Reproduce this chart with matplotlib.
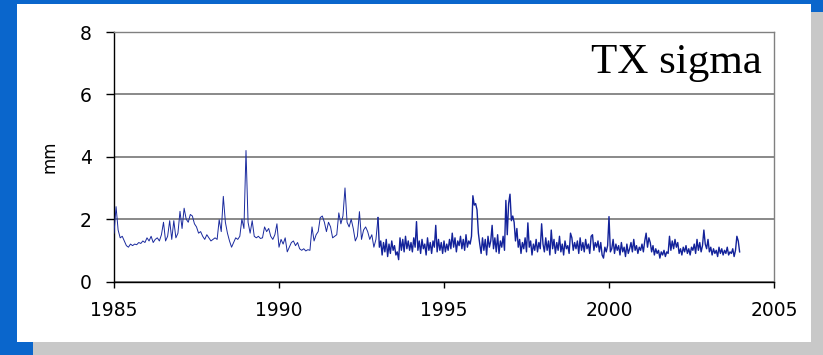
import numpy as np
import matplotlib
matplotlib.use("Agg")
import matplotlib.pyplot as plt
from matplotlib.patches import Rectangle

# TX sigma (mm), 1985-1993 about 16 samples per year
early_start = 1985.0
early_per_year = 16
early_values = [
    1.55, 2.40, 1.65, 1.40, 1.45, 1.30, 1.15, 1.10, 1.20, 1.15, 1.20, 1.18, 1.25, 1.22, 1.30, 1.25,  # 1985
    1.40, 1.30, 1.45, 1.25, 1.35, 1.40, 1.30, 1.50, 1.90, 1.30, 1.45, 1.95, 1.35, 1.95, 1.40, 1.55,  # 1986
    2.25, 1.70, 2.35, 2.00, 1.90, 2.15, 2.10, 1.85, 1.75, 1.55, 1.60, 1.45, 1.35, 1.50, 1.40, 1.30,  # 1987
    1.35, 1.40, 1.35, 1.98, 1.60, 2.73, 1.90, 1.55, 1.30, 1.10, 1.25, 1.40, 1.35, 1.45, 2.00, 1.70,  # 1988
    4.20, 1.90, 1.55, 1.95, 1.45, 1.40, 1.45, 1.38, 1.40, 1.75, 1.60, 1.70, 1.45, 1.35, 1.50, 1.85,  # 1989
    1.10, 1.35, 1.20, 1.40, 0.95, 1.10, 1.25, 1.30, 1.15, 1.25, 1.05, 1.00, 1.05, 0.98, 1.02, 1.00,  # 1990
    1.75, 1.30, 1.50, 1.60, 2.05, 2.10, 1.90, 1.60, 1.90, 1.75, 1.40, 1.45, 1.50, 2.20, 1.85, 2.10,  # 1991
    3.00, 1.90, 1.75, 2.00, 1.70, 1.30, 1.45, 2.24, 1.35, 1.65, 1.75, 1.60, 1.35, 1.50, 1.10, 1.35,  # 1992
]

# 1993-2004 about 24 samples per year
late_start = 1993.0
late_per_year = 24
late_values = [
    2.05, 1.10, 1.30, 0.85, 1.25, 0.95, 1.35, 0.80, 1.20, 0.90, 1.30, 1.00, 1.15, 0.85, 0.95, 0.70, 1.40, 1.00, 1.35, 0.95, 1.45, 1.05, 1.30, 1.00,  # 1993
    1.25, 0.95, 1.40, 1.10, 1.92, 1.00, 1.30, 0.90, 1.35, 1.05, 1.20, 0.85, 1.40, 1.00, 1.25, 0.90, 1.30, 1.10, 1.80, 0.95, 1.35, 1.00, 1.25, 0.90,  # 1994
    1.30, 0.95, 1.20, 1.00, 1.35, 1.05, 1.55, 1.10, 1.40, 0.95, 1.30, 1.15, 1.45, 1.05, 1.35, 1.00, 1.50, 1.10, 1.30, 1.20, 1.45, 2.75, 2.45, 2.50,  # 1995
    2.30, 1.55, 1.20, 0.90, 1.40, 1.00, 1.35, 0.85, 1.45, 1.10, 1.30, 1.80, 1.05, 1.40, 0.95, 1.50, 0.90, 1.30, 1.10, 1.45, 1.00, 2.60, 1.50, 2.50,  # 1996
    2.80, 1.95, 2.10, 1.90, 1.30, 1.70, 1.10, 1.35, 0.90, 1.25, 1.05, 1.40, 0.95, 1.88, 1.10, 1.30, 0.85, 1.20, 1.00, 1.35, 0.95, 1.25, 1.05, 1.85,  # 1997
    1.20, 0.95, 1.40, 1.00, 1.30, 0.85, 1.65, 1.05, 1.35, 0.90, 1.25, 1.00, 1.45, 0.95, 1.20, 0.85, 1.30, 1.05, 1.15, 0.90, 1.55, 1.40, 1.00, 1.25,  # 1998
    1.05, 1.30, 0.90, 1.40, 1.00, 1.25, 0.95, 1.35, 1.05, 1.20, 0.90, 1.45, 1.50, 1.00, 1.25, 1.10, 1.30, 0.95, 1.25, 0.85, 0.75, 1.10, 0.95, 1.15,  # 1999
    2.08, 0.95, 1.05, 1.35, 0.90, 1.20, 1.00, 1.15, 0.85, 1.25, 0.95, 1.10, 0.80, 1.20, 0.90, 1.05, 1.25, 0.95, 1.35, 1.00, 1.15, 0.90, 1.10, 1.00,  # 2000
    1.20, 0.95, 1.30, 1.55, 1.10, 1.40, 1.25, 0.95, 1.15, 0.85, 1.05, 0.90, 1.00, 0.75, 0.95, 0.85, 1.00, 0.80, 0.95, 0.90, 1.45, 1.00, 1.30, 1.05,  # 2001
    1.35, 1.10, 1.25, 0.90, 1.05, 0.85, 1.10, 0.95, 1.15, 0.90, 1.05, 0.85, 1.10, 1.00, 1.20, 0.90, 1.35, 1.00, 1.25, 0.95, 1.15, 1.65, 1.20, 1.05,  # 2002
    1.35, 0.95, 1.10, 0.85, 1.05, 0.90, 1.00, 0.80, 1.10, 0.90, 1.05, 0.85, 1.00, 0.90, 1.10, 0.85, 0.95, 0.90, 1.05, 0.80, 1.00, 1.45, 1.30, 0.95,  # 2003
]

x_ticks = [1985, 1990, 1995, 2000, 2005]
y_ticks = [0, 2, 4, 6, 8]
title_text = "TX sigma"
y_label = "mm"

early_t = early_start + np.arange(len(early_values)) / early_per_year
late_t = late_start + np.arange(len(late_values)) / late_per_year

W, H = 823, 355
fig = plt.figure(figsize=(W / 100, H / 100), dpi=100)
fig.patch.set_facecolor("#0a66cc")

# slide decoration: grey shadow and white panel
fig.add_artist(Rectangle((33 / W, 0), (W - 33) / W, (H - 12) / H,
                         transform=fig.transFigure, facecolor="#c8c8c8", edgecolor="none", zorder=0))
fig.add_artist(Rectangle((17 / W, 13 / H), (811 - 17) / W, (342 - 4) / H,
                         transform=fig.transFigure, facecolor="white", edgecolor="none", zorder=0))

ax = fig.add_axes([114 / W, 1 - 281.5 / H, (774 - 114) / W, (281.5 - 32) / H])
ax.set_facecolor("none")
# the early part is sampled more sparsely and looks thinner in the original
ax.plot(np.append(early_t, late_t[0]), early_values + late_values[:1],
        color="#1a2a9e", lw=0.7, zorder=3)
ax.plot(late_t, late_values, color="#13229a", lw=1.0, zorder=3)

ax.set_xlim(1985, 2005)
ax.set_ylim(0, 8)
ax.set_xticks(x_ticks)
ax.set_yticks(y_ticks)
ax.yaxis.grid(True, color="#808080", lw=1.3)
ax.set_axisbelow(True)

for s in ["left", "bottom"]:
    ax.spines[s].set_color("black")
    ax.spines[s].set_linewidth(1.0)
for s in ["top", "right"]:
    ax.spines[s].set_color("#808080")
    ax.spines[s].set_linewidth(1.0)

ax.tick_params(axis="y", direction="out", length=6, width=1, pad=10, labelsize=13.5)
ax.tick_params(axis="x", direction="out", length=4, width=1, pad=10, labelsize=13.5)
for lab in ax.get_xticklabels() + ax.get_yticklabels():
    lab.set_family("DejaVu Sans")

fig.text(49 / W, 1 - 157 / H, y_label, rotation=90, ha="center", va="center",
         fontsize=12, family="DejaVu Sans")
fig.text(762 / W, 1 - 73 / H, title_text, ha="right", va="baseline",
         fontsize=31, family="Liberation Serif")

fig.savefig("out.png", dpi=100, facecolor=fig.get_facecolor())
